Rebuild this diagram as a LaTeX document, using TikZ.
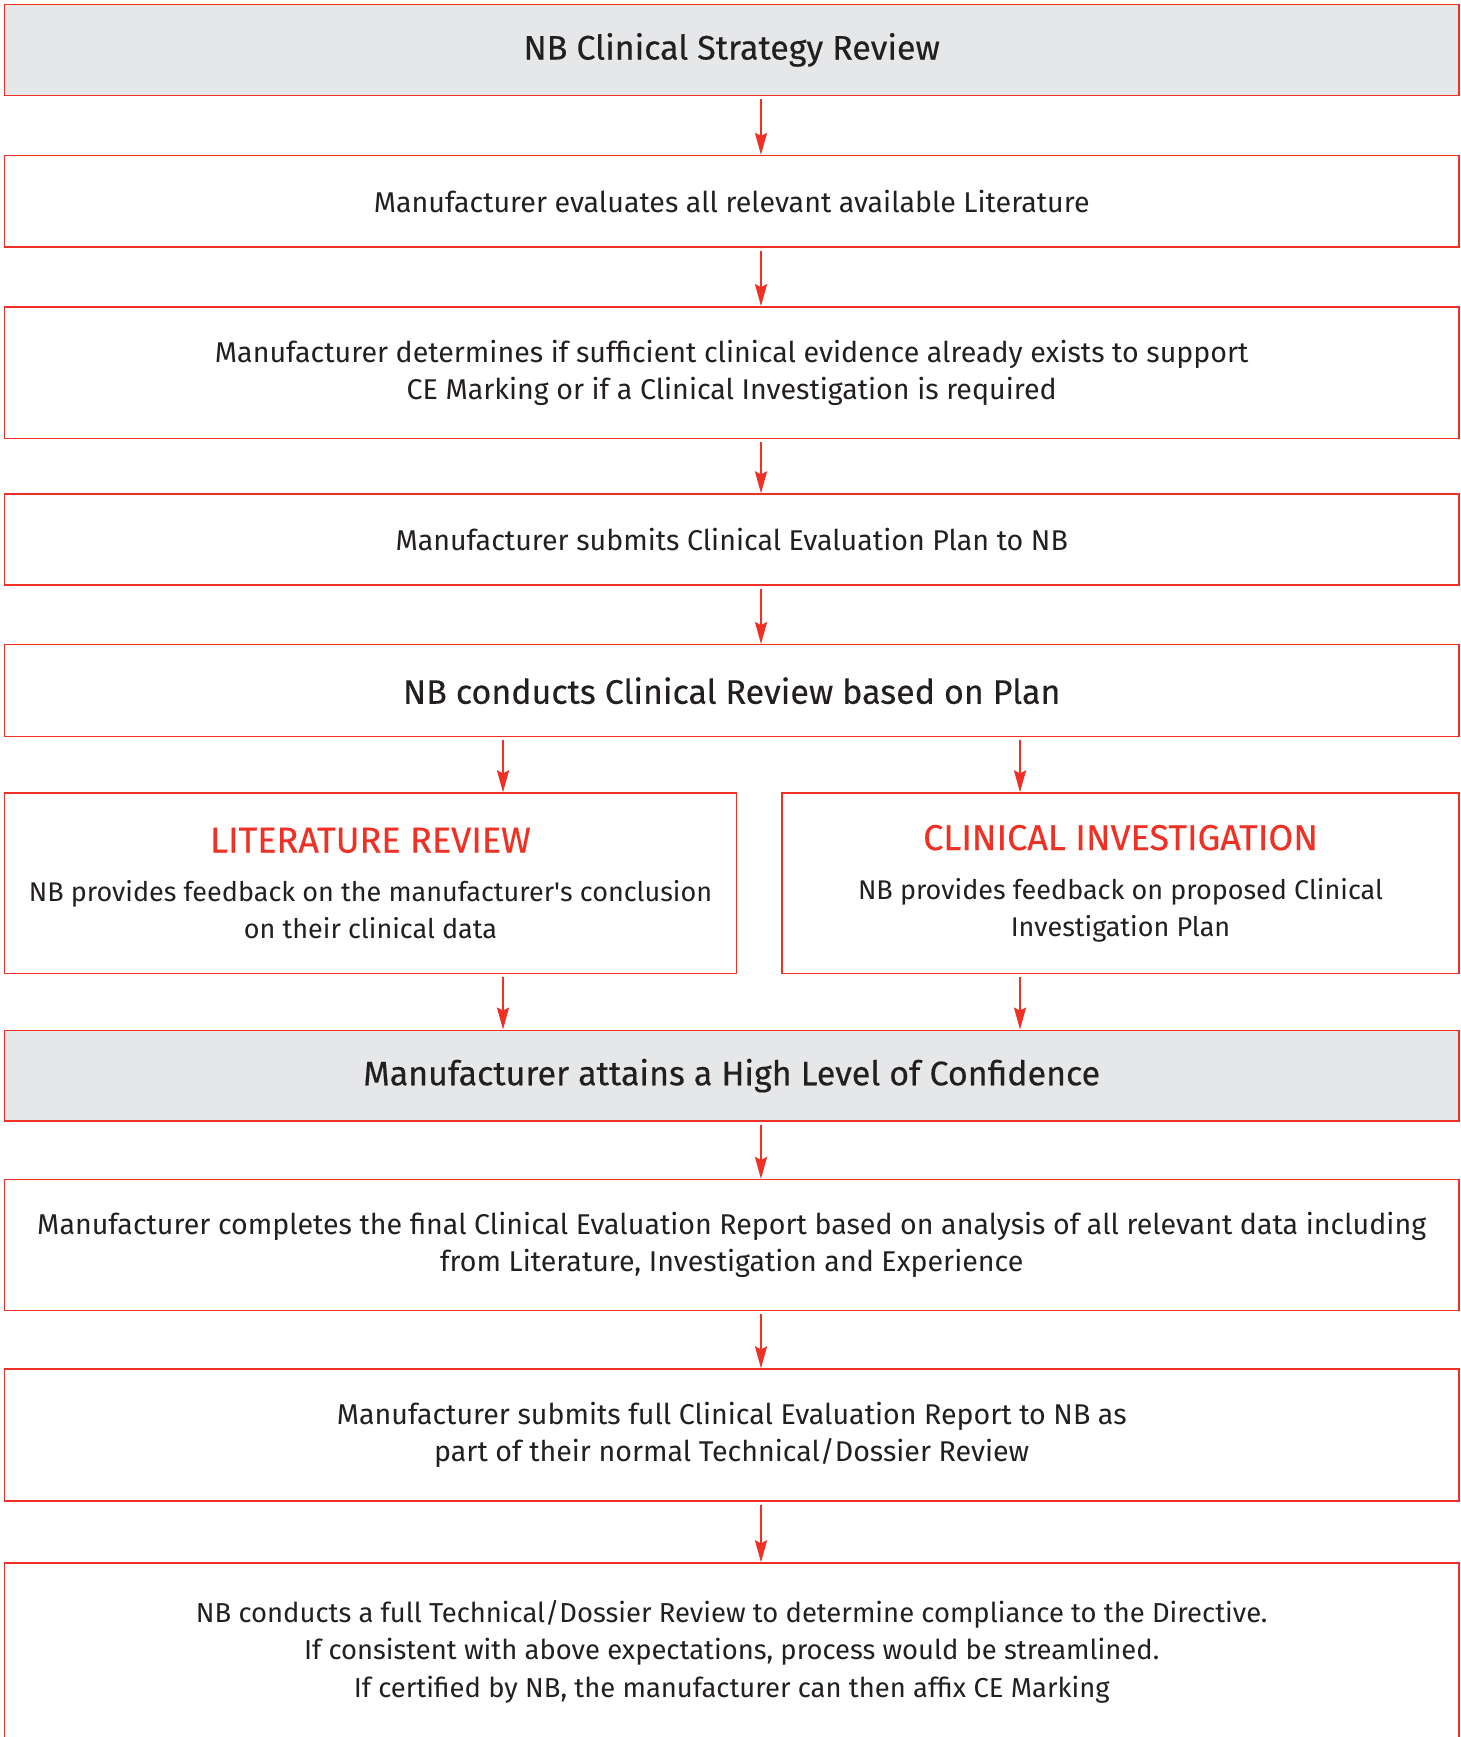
\documentclass[tikz,border=0pt]{standalone}
\usepackage{fontspec}
\setmainfont{Fira Sans}
\newfontfamily\headfont[FakeBold=0.3]{Fira Sans}
\usetikzlibrary{arrows.meta}
\definecolor{nbred}{HTML}{EE3124}
\definecolor{nbgray}{HTML}{E6E7E8}
\definecolor{nbtext}{HTML}{231F20}
\begin{document}
\begin{tikzpicture}[x=1pt,y=-1pt,
  box/.style={draw=nbred, line width=1.4pt, rectangle, inner sep=0pt, align=center,
    text=nbtext, minimum width=1454.6pt, font=\fontsize{28.6}{37.6}\selectfont},
  graybox/.style={box, fill=nbgray, font=\headfont\fontsize{34}{38}\selectfont},
  headbox/.style={box, font=\headfont\fontsize{34}{38}\selectfont},
  sidebox/.style={box, font=\fontsize{27}{37}\selectfont},
  flow/.style={draw=nbred, line width=2pt, -{Stealth[length=22pt,width=12pt,inset=3pt]}, shorten <=3pt}]
\newcommand{\redhead}[1]{{\headfont\fontsize{36}{38}\selectfont\color{nbred}#1}}
\useasboundingbox (0,0) rectangle (1460,1737);
\node[graybox, minimum height=91pt] (b1) at (731.7,49.9) {NB Clinical Strategy Review};
\node[box, minimum height=91.4pt] (b2) at (731.7,201.3) {Manufacturer evaluates all relevant available Literature};
\node[box, minimum height=131.8pt] (b3) at (731.7,372.7) {Manufacturer determines if sufficient clinical evidence already exists to support\\CE Marking or if a Clinical Investigation is required};
\node[box, minimum height=90.9pt] (b4) at (731.7,539.5) {Manufacturer submits Clinical Evaluation Plan to NB};
\node[headbox, minimum height=91.9pt] (b5) at (731.7,690.7) {NB conducts Clinical Review based on Plan};
\node[sidebox, minimum width=732.2pt, minimum height=180.5pt] (b6l) at (370.5,883.3) {\redhead{LITERATURE REVIEW}\\[12pt]NB provides feedback on the manufacturer\textquotesingle s conclusion\\on their clinical data};
\node[sidebox, minimum width=677pt, minimum height=180.5pt] (b6r) at (1120.5,883.3) {\redhead{CLINICAL INVESTIGATION}\\[12pt]NB provides feedback on proposed Clinical\\Investigation Plan};
\node[graybox, minimum height=90.8pt] (b7) at (731.7,1075.6) {Manufacturer attains a High Level of Confidence};
\node[box, minimum height=130.7pt] (b8) at (731.7,1245) {Manufacturer completes the final Clinical Evaluation Report based on analysis of all relevant data including\\from Literature, Investigation and Experience};
\node[box, minimum height=131.9pt] (b9) at (731.7,1435) {Manufacturer submits full Clinical Evaluation Report to NB as\\part of their normal Technical/Dossier Review};
\node[box, minimum height=177pt, font=\fontsize{27.4}{37.6}\selectfont] (b10) at (731.7,1651.5) {NB conducts a full Technical/Dossier Review to determine compliance to the Directive.\\If consistent with above expectations, process would be streamlined.\\If certified by NB, the manufacturer can then affix CE Marking};
\coordinate (mx) at (761,0);
\coordinate (lx) at (503,0);
\coordinate (rx) at (1020,0);
\draw[flow] (b1.south -| mx) -- (b2.north -| mx);
\draw[flow] (b2.south -| mx) -- (b3.north -| mx);
\draw[flow] (b3.south -| mx) -- (b4.north -| mx);
\draw[flow] (b4.south -| mx) -- (b5.north -| mx);
\draw[flow] (b5.south -| lx) -- (b6l.north -| lx);
\draw[flow] (b5.south -| rx) -- (b6r.north -| rx);
\draw[flow] (b6l.south -| lx) -- (b7.north -| lx);
\draw[flow] (b6r.south -| rx) -- (b7.north -| rx);
\draw[flow] (b7.south -| mx) -- (b8.north -| mx);
\draw[flow] (b8.south -| mx) -- (b9.north -| mx);
\draw[flow] (b9.south -| mx) -- (b10.north -| mx);
\end{tikzpicture}
\end{document}
